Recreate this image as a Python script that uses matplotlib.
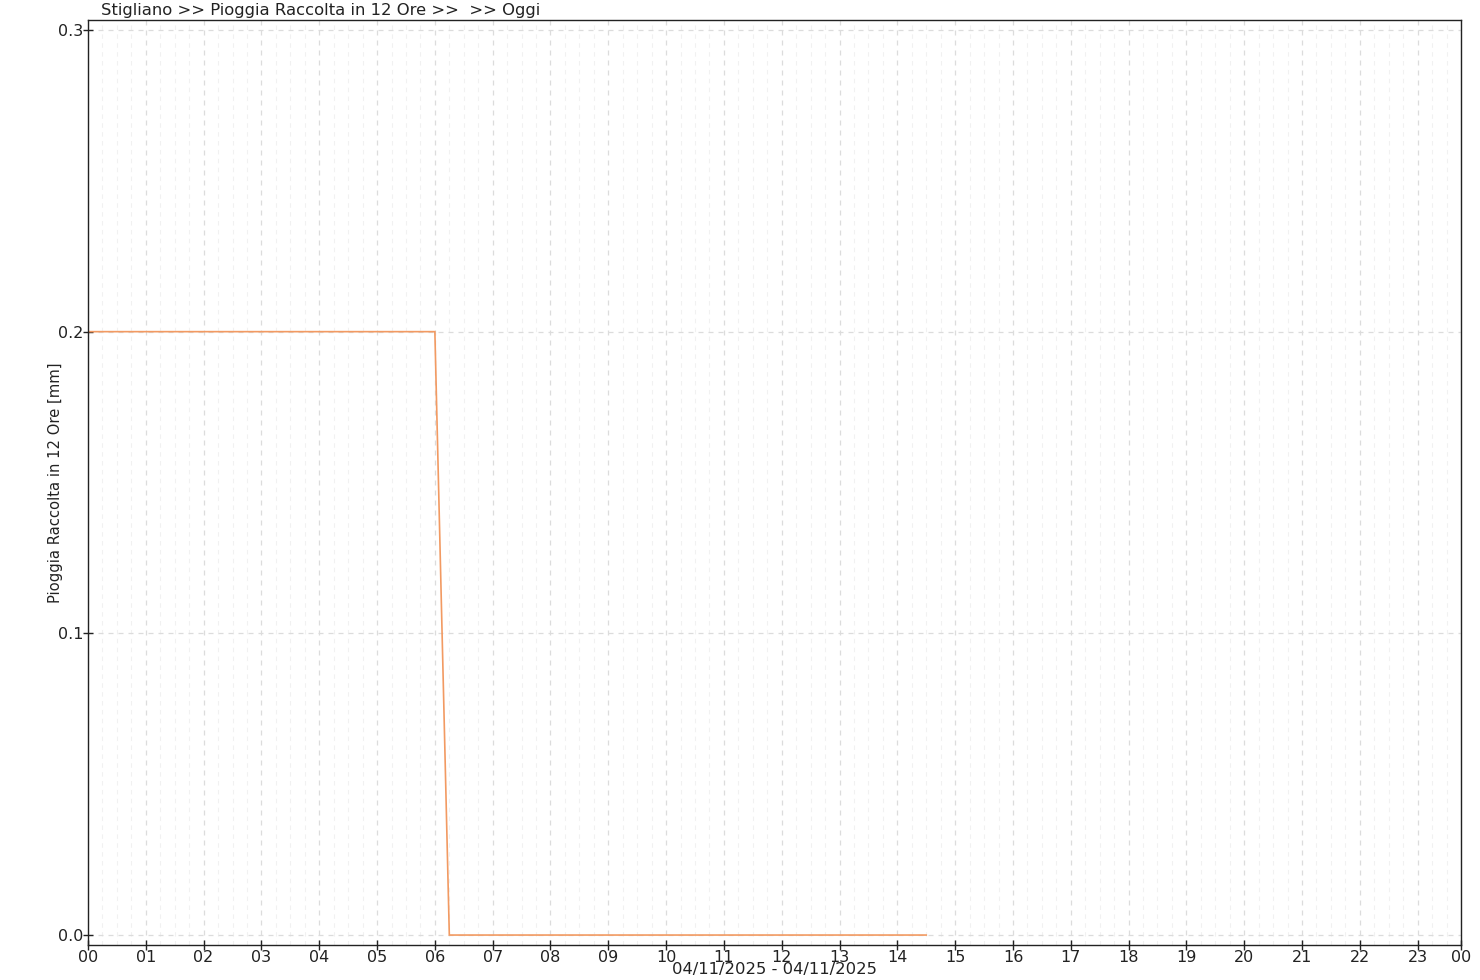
import matplotlib
matplotlib.use("Agg")
import matplotlib.pyplot as plt
from matplotlib.ticker import MultipleLocator, FixedLocator

# Data: hours of day (decimal) and rain collected in 12 hours [mm]
hours = [0.0, 6.0, 6.25, 14.5]
rain_mm = [0.2, 0.2, 0.0, 0.0]

tick_hours = list(range(24)) + [23.75]
tick_labels = ["%02d" % h for h in range(24)] + ["00"]

title = "Stigliano >> Pioggia Raccolta in 12 Ore >>  >> Oggi"
ylabel = "Pioggia Raccolta in 12 Ore [mm]"
xlabel = "04/11/2025 - 04/11/2025"

plt.rcParams['font.family'] = ['DejaVu Sans']

fig = plt.figure(figsize=(14.8, 9.8), dpi=100)
ax = fig.add_axes([88/1480, 1-945/980, (1461-88)/1480, (945-20)/980])

ax.plot(hours, rain_mm, color='#f29a62', lw=1.2, solid_joinstyle='miter')

ax.set_xlim(0, 23.75)
ax.set_ylim(-0.0033, 0.3033)

ax.xaxis.set_major_locator(FixedLocator(tick_hours))
ax.set_xticklabels(tick_labels)
ax.xaxis.set_minor_locator(MultipleLocator(0.25))
ax.yaxis.set_major_locator(FixedLocator([0.0, 0.1, 0.2, 0.3]))
ax.set_yticklabels(["0.0", "0.1", "0.2", "0.3"])

ax.grid(which='major', color='#dcdcdc', linestyle=(0, (4, 4)), lw=0.9)
ax.grid(which='minor', axis='x', color='#f1f1f1', linestyle=(0, (4, 4)), lw=0.8)
ax.set_axisbelow(True)

ax.tick_params(axis='both', which='major', direction='inout', length=7, width=1,
               labelsize=11.5, colors='#222222', pad=0)
ax.tick_params(axis='x', which='minor', length=0)
ax.tick_params(axis='y', which='major', pad=0)

for s in ax.spines.values():
    s.set_color('#222222')
    s.set_linewidth(1.0)

ax.set_xlabel(xlabel, fontsize=11.8, labelpad=-2, color='#222222')
ax.set_ylabel(ylabel, fontsize=10.6, labelpad=-4, color='#222222')

fig.text(101/1480, 1-15/980, title, fontsize=11.8, ha='left', va='baseline', color='#222222')

fig.savefig("out.png", dpi=100, facecolor='white')
